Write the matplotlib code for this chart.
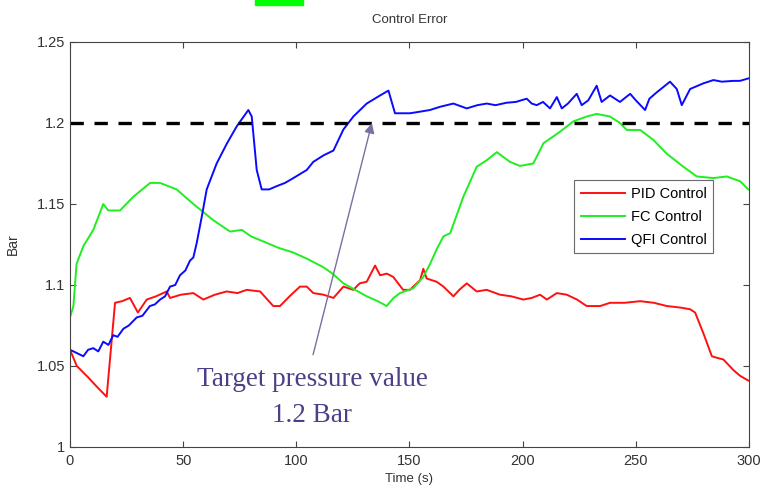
import matplotlib.pyplot as plt
from matplotlib.patches import Rectangle

# values
pid_t = [0, 3, 8, 12, 16.2, 19.9, 23, 26.5, 30, 33.9, 38, 42.7, 44.2, 49, 54.5, 58.9, 64, 69.2,
         74, 78.1, 84, 89.8, 92.8, 97, 101.6, 104.6, 107.5, 112, 116.4, 120.8, 125.2, 128, 131.1,
         134.8, 137, 140, 142.8, 147.2, 150.2, 154.7, 156.1, 157.6, 162, 165, 169.4, 172, 175.3,
         179.7, 184.1, 190, 195, 200.3, 204, 207.7, 210.7, 215.1, 219.5, 224, 228.3, 234.2,
         238.6, 245, 251.9, 258, 263.7, 270, 274, 276.2, 279.9, 283.6, 286, 288.7, 293.1, 296, 299.7]
pid_v = [1.060, 1.050, 1.043, 1.037, 1.031, 1.089, 1.090, 1.092, 1.083, 1.091, 1.093, 1.096, 1.092,
         1.094, 1.095, 1.091, 1.094, 1.096, 1.095, 1.097, 1.096, 1.087, 1.087, 1.093, 1.099, 1.099,
         1.095, 1.094, 1.092, 1.099, 1.097, 1.101, 1.102, 1.112, 1.106, 1.107, 1.105, 1.097, 1.097,
         1.103, 1.110, 1.104, 1.102, 1.099, 1.093, 1.097, 1.101, 1.096, 1.097, 1.094, 1.093, 1.091,
         1.092, 1.094, 1.091, 1.095, 1.094, 1.091, 1.087, 1.087, 1.089, 1.089, 1.090, 1.089, 1.087,
         1.086, 1.085, 1.083, 1.070, 1.056, 1.055, 1.054, 1.0475, 1.044, 1.041]

fc_t = [0, 1.5, 2.9, 5.9, 10.3, 14.7, 16.9, 22.1, 28, 35.4, 39.8, 47.1, 54.5, 63.3, 70.7, 75.9,
        80, 86.9, 92, 98.7, 105, 111.9, 116, 120.8, 126, 131.1, 136, 139.9, 143, 145.8, 151.7,
        156.1, 159.1, 162, 165, 168, 173.8, 179.7, 184.1, 188.6, 194.4, 198.8, 204.7, 209.2,
        216.5, 222.4, 228.3, 232.7, 238.6, 243, 246, 251.9, 257.8, 263.7, 271, 276.9, 284.3,
        290.2, 296.1, 299.7]
fc_v = [1.080, 1.087, 1.113, 1.124, 1.134, 1.150, 1.146, 1.146, 1.1545, 1.163, 1.163, 1.159, 1.150,
        1.140, 1.133, 1.134, 1.130, 1.126, 1.123, 1.120, 1.116, 1.111, 1.107, 1.101, 1.097, 1.093,
        1.090, 1.087, 1.092, 1.095, 1.098, 1.105, 1.113, 1.122, 1.130, 1.132, 1.1545, 1.173,
        1.177, 1.182, 1.176, 1.1735, 1.175, 1.1875, 1.1946, 1.201, 1.204, 1.2056, 1.204, 1.200,
        1.1957, 1.1957, 1.1895, 1.181, 1.173, 1.167, 1.166, 1.167, 1.164, 1.159]

qfi_t = [0, 3, 5.9, 8, 10.3, 12.5, 14.7, 17, 19.1, 21, 23.6, 26, 29.5, 32, 35.3, 37.5, 39.8, 42,
         44.2, 46.5, 48.6, 51, 53, 54.5, 56, 58.2, 60.4, 64.8, 69.2, 73.7, 78.8, 80.3, 82.5, 84.7,
         88, 91.3, 95, 98.7, 104.6, 107.5, 112, 116.4, 120.8, 125.2, 131.1, 137, 140.7, 143.6,
         150.2, 154.7, 159, 163.5, 169.4, 175.3, 180, 184.1, 188, 192.9, 197, 201.8, 204, 206.2,
         209, 212.1, 215.1, 217.3, 220, 223.9, 226.1, 229, 232.7, 234.9, 238.6, 243, 247.5, 250,
         254.1, 256, 259.3, 262, 265.1, 268.1, 270.3, 274, 279.9, 284.3, 288, 293.1, 296, 299.7]
qfi_v = [1.060, 1.058, 1.056, 1.060, 1.061, 1.059, 1.065, 1.063, 1.069, 1.068, 1.073, 1.075, 1.080,
         1.081, 1.087, 1.088, 1.091, 1.093, 1.099, 1.100, 1.106, 1.109, 1.115, 1.117, 1.126, 1.142,
         1.159, 1.175, 1.187, 1.198, 1.208, 1.204, 1.171, 1.159, 1.159, 1.161, 1.163, 1.166, 1.171,
         1.176, 1.180, 1.183, 1.196, 1.204, 1.212, 1.217, 1.220, 1.206, 1.206, 1.207, 1.208, 1.210,
         1.212, 1.209, 1.211, 1.212, 1.211, 1.2125, 1.213, 1.215, 1.212, 1.211, 1.213, 1.209,
         1.216, 1.209, 1.212, 1.218, 1.211, 1.214, 1.223, 1.213, 1.217, 1.213, 1.218, 1.214, 1.208,
         1.215, 1.219, 1.222, 1.2255, 1.221, 1.211, 1.221, 1.2245, 1.2265, 1.2255, 1.226, 1.226,
         1.2275]

target = 1.2
series_names = ['PID Control', 'FC Control', 'QFI Control']
x_ticks = [0, 50, 100, 150, 200, 250, 300]
y_ticks = [1, 1.05, 1.1, 1.15, 1.2, 1.25]
y_tick_labels = ['1', '1.05', '1.1', '1.15', '1.2', '1.25']

plt.rcParams['font.family'] = ['Liberation Sans', 'DejaVu Sans']

fig = plt.figure(figsize=(7.6, 4.9), dpi=100)
ax = fig.add_axes([0.0921, 0.0878, 0.8934, 0.8265])

ax.plot(pid_t, pid_v, color='#ff1010', lw=1.4, label=series_names[0])
ax.plot(fc_t, fc_v, color='#20ee20', lw=1.4, label=series_names[1])
ax.plot(qfi_t, qfi_v, color='#0a0aff', lw=1.4, label=series_names[2])
ax.plot([0, 300], [target, target], color='black', lw=2.4, ls=(0, (4, 3.2)))

ax.set_xlim(0, 300)
ax.set_ylim(1, 1.25)
ax.set_xticks(x_ticks)
ax.set_yticks(y_ticks)
ax.set_yticklabels(y_tick_labels)
ax.tick_params(direction='in', top=True, right=True, labelsize=10.5,
               labelcolor='#333333', length=4, color='#444444')
ax.tick_params(axis='x', pad=5)
for s in ax.spines.values():
    s.set_color('#444444')
    s.set_linewidth(0.8)

ax.set_title('Control Error', fontsize=9.5, color='#333333', pad=14)
ax.set_xlabel('Time (s)', fontsize=9.5, color='#333333', labelpad=3.5)
ax.set_ylabel('Bar', fontsize=10, color='#333333', labelpad=12)

leg = ax.legend(loc='upper right', bbox_to_anchor=(0.947, 0.659), fontsize=10.5,
                frameon=True, fancybox=False, handlelength=3.0, borderpad=0.45,
                labelspacing=0.62, handletextpad=0.4, borderaxespad=0)
leg.get_frame().set_edgecolor('#444444')
leg.get_frame().set_linewidth(0.8)
for line in leg.get_lines():
    line.set_linewidth(1.4)

# annotation for the target value
ax.annotate('', xy=(133.4, 1.2), xytext=(107.4, 1.057),
            arrowprops=dict(arrowstyle='-|>', color='#7a6fa0', lw=1.0,
                            mutation_scale=15, shrinkA=0, shrinkB=0))
ax.text(107, 1.0305, 'Target pressure value\n1.2 Bar', ha='center', va='center',
        fontsize=19.5, color='#4a4088', family=['Liberation Serif', 'DejaVu Serif'],
        linespacing=1.6)

# cropped caption fragment at the top of the picture
fig.patches.append(Rectangle((0.3355, 0.99), 0.063, 0.012, transform=fig.transFigure,
                             color='#00ff00', zorder=5))

fig.savefig('out.png', dpi=100)
